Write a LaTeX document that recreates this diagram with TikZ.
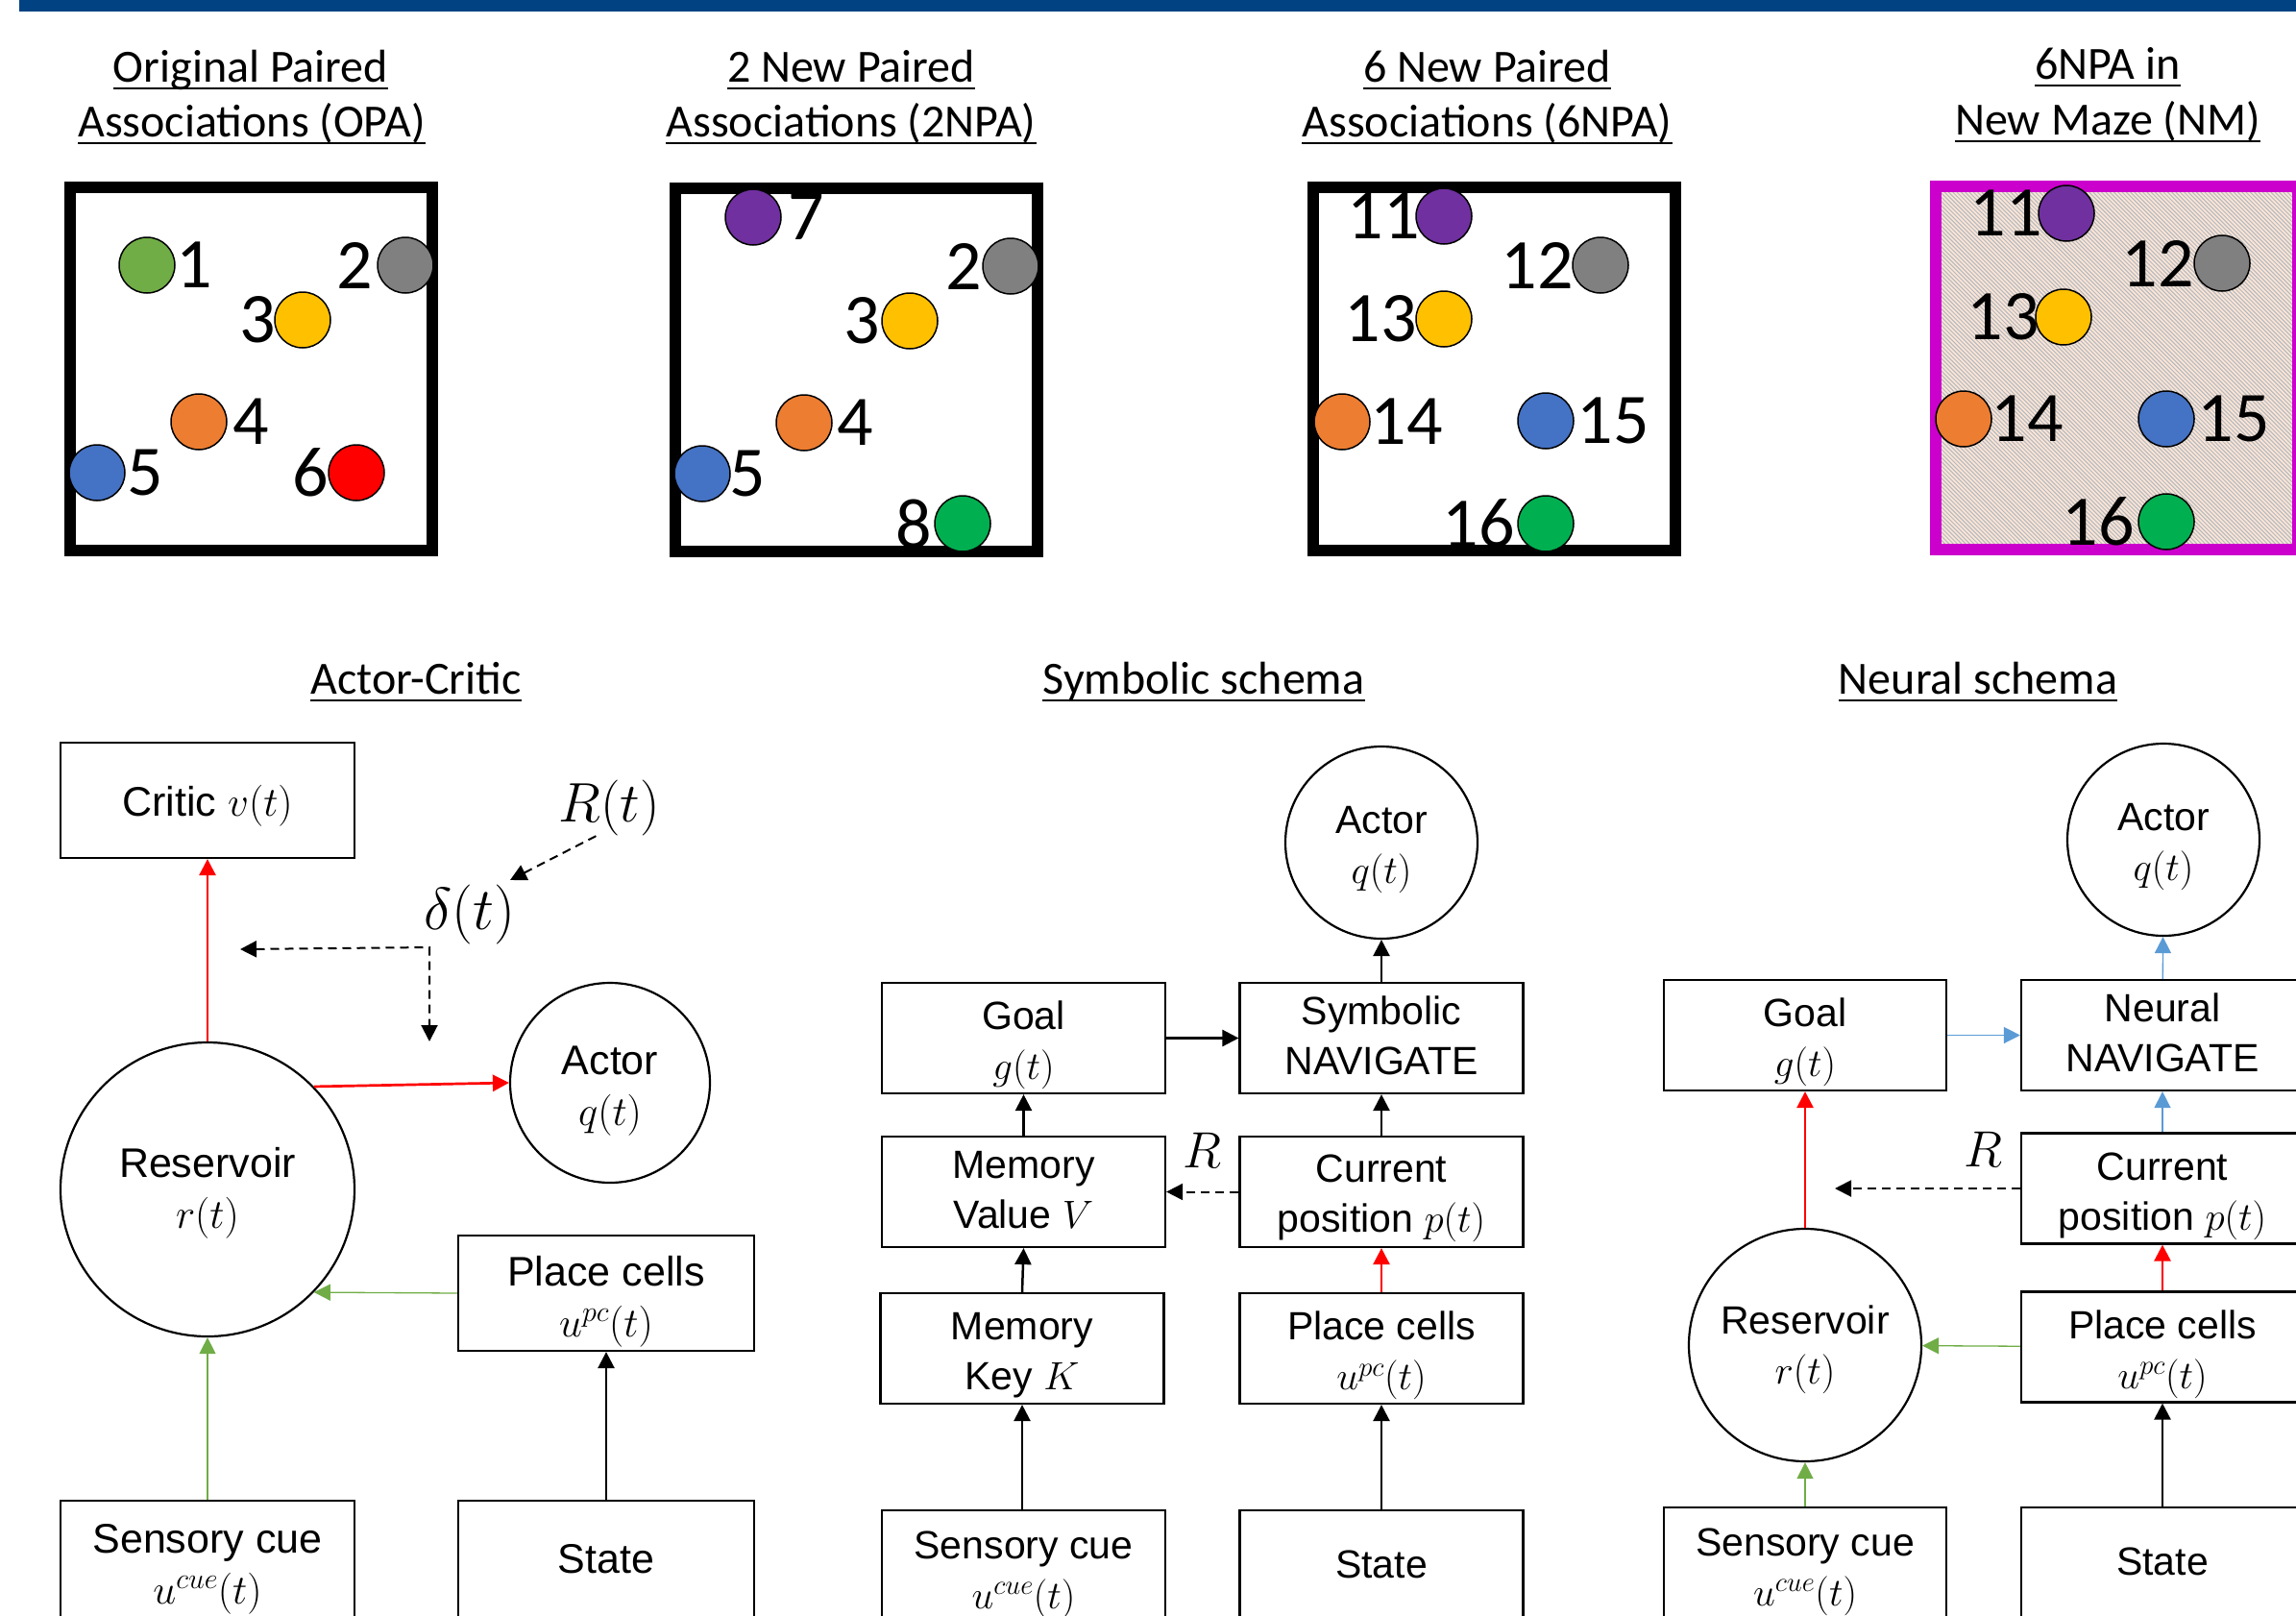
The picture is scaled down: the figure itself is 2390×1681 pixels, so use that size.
\RequirePackage{fix-cm}
\documentclass[tikz,border=0pt]{standalone}
\usepackage[no-math]{fontspec}
\setmainfont{Liberation Sans}
\newfontfamily\carl{Carlito}
\usetikzlibrary{arrows.meta}
\definecolor{barblue}{RGB}{0,66,130}
\definecolor{cgreen}{RGB}{112,173,71}
\definecolor{cgray}{RGB}{128,128,128}
\definecolor{cyellow}{RGB}{255,192,0}
\definecolor{corange}{RGB}{237,125,49}
\definecolor{cblue}{RGB}{68,114,196}
\definecolor{cred}{RGB}{255,0,0}
\definecolor{cpurple}{RGB}{112,48,160}
\definecolor{cgreentwo}{RGB}{0,176,80}
\definecolor{cmagenta}{RGB}{204,0,204}
\definecolor{peach}{RGB}{251,229,214}
\definecolor{hatchgray}{RGB}{180,184,190}
\definecolor{arrblue}{RGB}{91,155,213}
\newcommand{\bx}[2][-7pt]{\raisebox{#1}[\height][\depth]{\begin{tabular}{@{}c@{}}#2\end{tabular}}}
\begin{document}
\begin{tikzpicture}[x=1pt,y=-1pt,
  ttl/.style={font={\carl\fontsize{48}{57}\selectfont}, inner sep=0pt, anchor=base},
  num/.style={font={\carl\fontsize{74}{80}\selectfont}, inner sep=0pt},
  dot/.style={circle, draw=black, line width=1.5pt, minimum size=58pt, inner sep=0pt},
  mazewall/.style={draw=black, line width=12pt},
  acbox/.style={draw, line width=2.2pt, inner sep=0pt, minimum width=306pt, minimum height=120pt, font={\fontsize{43}{53}\selectfont}},
  sbox/.style={draw, line width=2.2pt, inner sep=0pt, minimum width=295pt, minimum height=115pt, font={\fontsize{41}{52}\selectfont}},
  accirc/.style={circle, draw, line width=2.2pt, inner sep=0pt, font={\fontsize{43}{53}\selectfont}},
  scirc/.style={circle, draw, line width=2.2pt, inner sep=0pt, font={\fontsize{41}{52}\selectfont}},
  rtlbl/.style={inner sep=0pt, font={\fontsize{58}{64}\selectfont}},
  dlbl/.style={inner sep=0pt, font={\fontsize{62}{68}\selectfont}},
  rlbl/.style={inner sep=0pt, font={\fontsize{53}{60}\selectfont}},
  tipped/.style={-{Triangle[length=17pt,width=17pt]}},
  blk/.style={tipped, line width=2.5pt, black},
  redarr/.style={tipped, line width=2.7pt, cred},
  grnarr/.style={tipped, line width=1.3pt, cgreen},
  bluarr/.style={tipped, line width=1.3pt, arrblue},
  dsh/.style={tipped, line width=2pt, dash pattern=on 9pt off 6pt},
  uline/.style={line width=2.4pt}
]
\useasboundingbox (0,0) rectangle (2390,1681);
\clip (0,0) rectangle (2390,1681);

% top bar
\fill[barblue] (20,0) rectangle (2390,12);

% ---------- titles top ----------
\node[ttl] (t1a) at (261,85) {Original Paired};
\node[ttl] (t1b) at (262,142) {Associations (OPA)};
\node[ttl] (t2a) at (886,85) {2 New Paired};
\node[ttl] (t2b) at (886,142) {Associations (2NPA)};
\node[ttl] (t3a) at (1548,85) {6 New Paired};
\node[ttl] (t3b) at (1548,142) {Associations (6NPA)};
\node[ttl] (t4a) at (2194,82) {6NPA in};
\node[ttl] (t4b) at (2194,140) {New Maze (NM)};
\foreach \n in {t1a,t1b,t2a,t2b,t3a,t3b,t4a,t4b}
  \draw[uline] ([yshift=-7pt]\n.base west) -- ([yshift=-7pt]\n.base east);

% ---------- maze 1 ----------
\draw[mazewall] (73,195) rectangle (450,573);
\node[dot, fill=cgreen] (m1c1) at (153,276) {};
\node[num] (m1n1) at (202,276) {1};
\node[dot, fill=cgray] (m1c2) at (422,276) {};
\node[num] (m1n2) at (369,276) {2};
\node[dot, fill=cyellow] (m1c3) at (315,333) {};
\node[num] (m1n3) at (268,333) {3};
\node[dot, fill=corange] (m1c4) at (207,439) {};
\node[num] (m1n4) at (261,439) {4};
\node[dot, fill=cblue] (m1c5) at (101,492) {};
\node[num] (m1n5) at (151,492) {5};
\node[dot, fill=cred] (m1c6) at (371,492) {};
\node[num] (m1n6) at (323,492) {6};

% ---------- maze 2 ----------
\draw[mazewall] (703,196) rectangle (1080,574);
\node[dot, fill=cpurple] (m2c7) at (784,226) {};
\node[num] (m2n7) at (839,226) {7};
\node[dot, fill=cgray] (m2c2) at (1052,277) {};
\node[num] (m2n2) at (1003,277) {2};
\node[dot, fill=cyellow] (m2c3) at (947,334) {};
\node[num] (m2n3) at (897,334) {3};
\node[dot, fill=corange] (m2c4) at (837,440) {};
\node[num] (m2n4) at (890,440) {4};
\node[dot, fill=cblue] (m2c5) at (731,493) {};
\node[num] (m2n5) at (778,493) {5};
\node[dot, fill=cgreentwo] (m2c8) at (1002,545) {};
\node[num] (m2n8) at (951,545) {8};

% ---------- maze 3 ----------
\draw[mazewall] (1367,195) rectangle (1744,573);
\node[dot, fill=cpurple] (m3c11) at (1503,225) {};
\node[num] (m3n11) at (1440,225) {11};
\node[dot, fill=cgray] (m3c12) at (1666,276) {};
\node[num] (m3n12) at (1600,276) {12};
\node[dot, fill=cyellow] (m3c13) at (1503,332) {};
\node[num] (m3n13) at (1437,332) {13};
\node[dot, fill=corange] (m3c14) at (1397,439) {};
\node[num] (m3n14) at (1464,439) {14};
\node[dot, fill=cblue] (m3c15) at (1609,438) {};
\node[num] (m3n15) at (1679,438) {15};
\node[dot, fill=cgreentwo] (m3c16) at (1609,545) {};
\node[num] (m3n16) at (1539,545) {16};

% ---------- maze 4 ----------
\begin{scope}
  \clip (2021,200) rectangle (2386,566);
  \fill[peach] (2021,200) rectangle (2386,566);
  \foreach \k in {0,...,175}
    \draw[hatchgray, line width=1.0pt] ({1650+4.3*\k},200) -- ++(366,366);
\end{scope}
\draw[cmagenta, line width=12pt] (2015,194) rectangle (2392,572);
\node[dot, fill=cpurple] (m4c11) at (2151,222) {};
\node[num] (m4n11) at (2088,222) {11};
\node[dot, fill=cgray] (m4c12) at (2313,274) {};
\node[num] (m4n12) at (2246,274) {12};
\node[dot, fill=cyellow] (m4c13) at (2148,330) {};
\node[num] (m4n13) at (2085,330) {13};
\node[dot, fill=corange] (m4c14) at (2044,436) {};
\node[num] (m4n14) at (2110,436) {14};
\node[dot, fill=cblue] (m4c15) at (2255,436) {};
\node[num] (m4n15) at (2325,436) {15};
\node[dot, fill=cgreentwo] (m4c16) at (2255,543) {};
\node[num] (m4n16) at (2184,543) {16};

% ---------- bottom titles ----------
\node[ttl] (b1) at (433,722) {Actor-Critic};
\node[ttl] (b2) at (1253,722) {Symbolic schema};
\node[ttl] (b3) at (2059,722) {Neural schema};
\foreach \n in {b1,b2,b3}
  \draw[uline] ([yshift=-7pt]\n.base west) -- ([yshift=-7pt]\n.base east);

% ---------- Actor-Critic ----------
\node[acbox] (ac-critic) at (216,833) {\bx[-6pt]{Critic $v(t)$}};
\node[rtlbl] (ac-R) at (634,841) {$R(t)$};
\node[dlbl] (ac-delta) at (489,952) {$\delta(t)$};
\node[accirc, minimum size=306pt] (ac-res) at (216,1238) {\bx[-3pt]{Reservoir\\$r(t)$}};
\node[accirc, minimum size=208pt] (ac-actor) at (635,1127) {\bx[-7pt]{Actor\\$q(t)$}};
\node[acbox, minimum width=308pt] (ac-pc) at (631,1346) {\bx[-8pt]{Place cells\\$u^{pc}(t)$}};
\node[acbox, minimum width=308pt, minimum height=124pt] (ac-state) at (631,1624) {\bx[-3pt]{State}};
\node[acbox, minimum height=124pt] (ac-sens) at (216,1624) {\bx[-8pt]{Sensory cue\\$u^{cue}(t)$}};
\coordinate (ac-rtip) at (531,916);
\coordinate (ac-dl) at (250,988);
\coordinate (ac-dc) at (447,986);
\coordinate (ac-dd) at (447,1084);

\draw[redarr] (ac-res) -- (ac-critic);
\draw[redarr] (ac-res.44) -- (ac-actor.west);
\draw[grnarr] (ac-pc.west) -- (ac-res.-44);
\draw[grnarr] (ac-sens) -- (ac-res);
\draw[blk] (ac-state) -- (ac-pc);
\draw[dsh] (ac-R.-115) -- (ac-rtip);
\draw[{Triangle[length=17pt,width=17pt]}-{Triangle[length=17pt,width=17pt]}, line width=2pt, dash pattern=on 9pt off 6pt] (ac-dl) -- (ac-dc) -- (ac-dd);

% ---------- Symbolic schema ----------
\node[scirc, minimum size=200pt] (sy-actor) at (1438,877) {\bx[-6pt]{Actor\\$q(t)$}};
\node[sbox] (sy-goal) at (1065.5,1080.5) {\bx[-7pt]{Goal\\$g(t)$}};
\node[sbox] (sy-nav) at (1438,1080.5) {\bx[-2pt]{Symbolic\\NAVIGATE}};
\node[sbox] (sy-memv) at (1065.5,1240.5) {\bx[-2pt]{Memory\\Value $V$}};
\node[sbox] (sy-cur) at (1438,1240.5) {\bx[-6pt]{Current\\position $p(t)$}};
\node[sbox] (sy-memk) at (1064,1403.5) {\bx[-7pt]{Memory\\Key $K$}};
\node[sbox] (sy-pc) at (1438,1403.5) {\bx[-7pt]{Place cells\\$u^{pc}(t)$}};
\node[sbox, minimum height=120pt] (sy-sens) at (1065.5,1632) {\bx[-6pt]{Sensory cue\\$u^{cue}(t)$}};
\node[sbox, minimum height=120pt] (sy-state) at (1438,1632) {\bx[0pt]{State}};
\node[rlbl] (sy-R) at (1251,1197) {$R$};

\draw[blk] (sy-goal) -- (sy-nav);
\draw[blk] (sy-nav) -- (sy-actor);
\draw[blk] (sy-cur) -- (sy-nav);
\draw[redarr] (sy-pc) -- (sy-cur);
\draw[blk] (sy-state) -- (sy-pc);
\draw[blk] (sy-memv) -- (sy-goal);
\draw[blk] (sy-memk.north) -- (sy-memv.south);
\draw[blk] (sy-sens.north -| sy-memk.north) -- (sy-memk.south);
\draw[dsh] (sy-cur) -- (sy-memv);

% ---------- Neural schema ----------
\node[scirc, minimum size=200pt] (ne-actor) at (2252,874) {\bx[-6pt]{Actor\\$q(t)$}};
\node[sbox, minimum width=294pt] (ne-goal) at (1879,1077.5) {\bx[-7pt]{Goal\\$g(t)$}};
\node[sbox, minimum width=294pt] (ne-nav) at (2251,1077.5) {\bx[-2pt]{Neural\\NAVIGATE}};
\node[sbox, minimum width=294pt] (ne-cur) at (2251,1237) {\bx[-7pt]{Current\\position $p(t)$}};
\node[sbox, minimum width=294pt] (ne-pc) at (2251,1402) {\bx[-7pt]{Place cells\\$u^{pc}(t)$}};
\node[sbox, minimum width=294pt, minimum height=120pt] (ne-state) at (2251,1629) {\bx[0pt]{State}};
\node[sbox, minimum width=294pt, minimum height=120pt] (ne-sens) at (1879,1629) {\bx[-6pt]{Sensory cue\\$u^{cue}(t)$}};
\node[scirc, minimum size=242pt] (ne-res) at (1879,1400) {\bx[-4pt]{Reservoir\\$r(t)$}};
\node[rlbl] (ne-R) at (2064,1196) {$R$};
\coordinate (ne-dend) at (1910,1237);

\draw[bluarr] (ne-goal) -- (ne-nav);
\draw[bluarr] (ne-nav) -- (ne-actor);
\draw[bluarr] (ne-cur) -- (ne-nav);
\draw[redarr] (ne-pc) -- (ne-cur);
\draw[blk] (ne-state) -- (ne-pc);
\draw[grnarr] (ne-pc) -- (ne-res);
\draw[grnarr] (ne-sens) -- (ne-res);
\draw[redarr] (ne-res) -- (ne-goal);
\draw[dsh] (ne-cur) -- (ne-dend);
\end{tikzpicture}
\end{document}
